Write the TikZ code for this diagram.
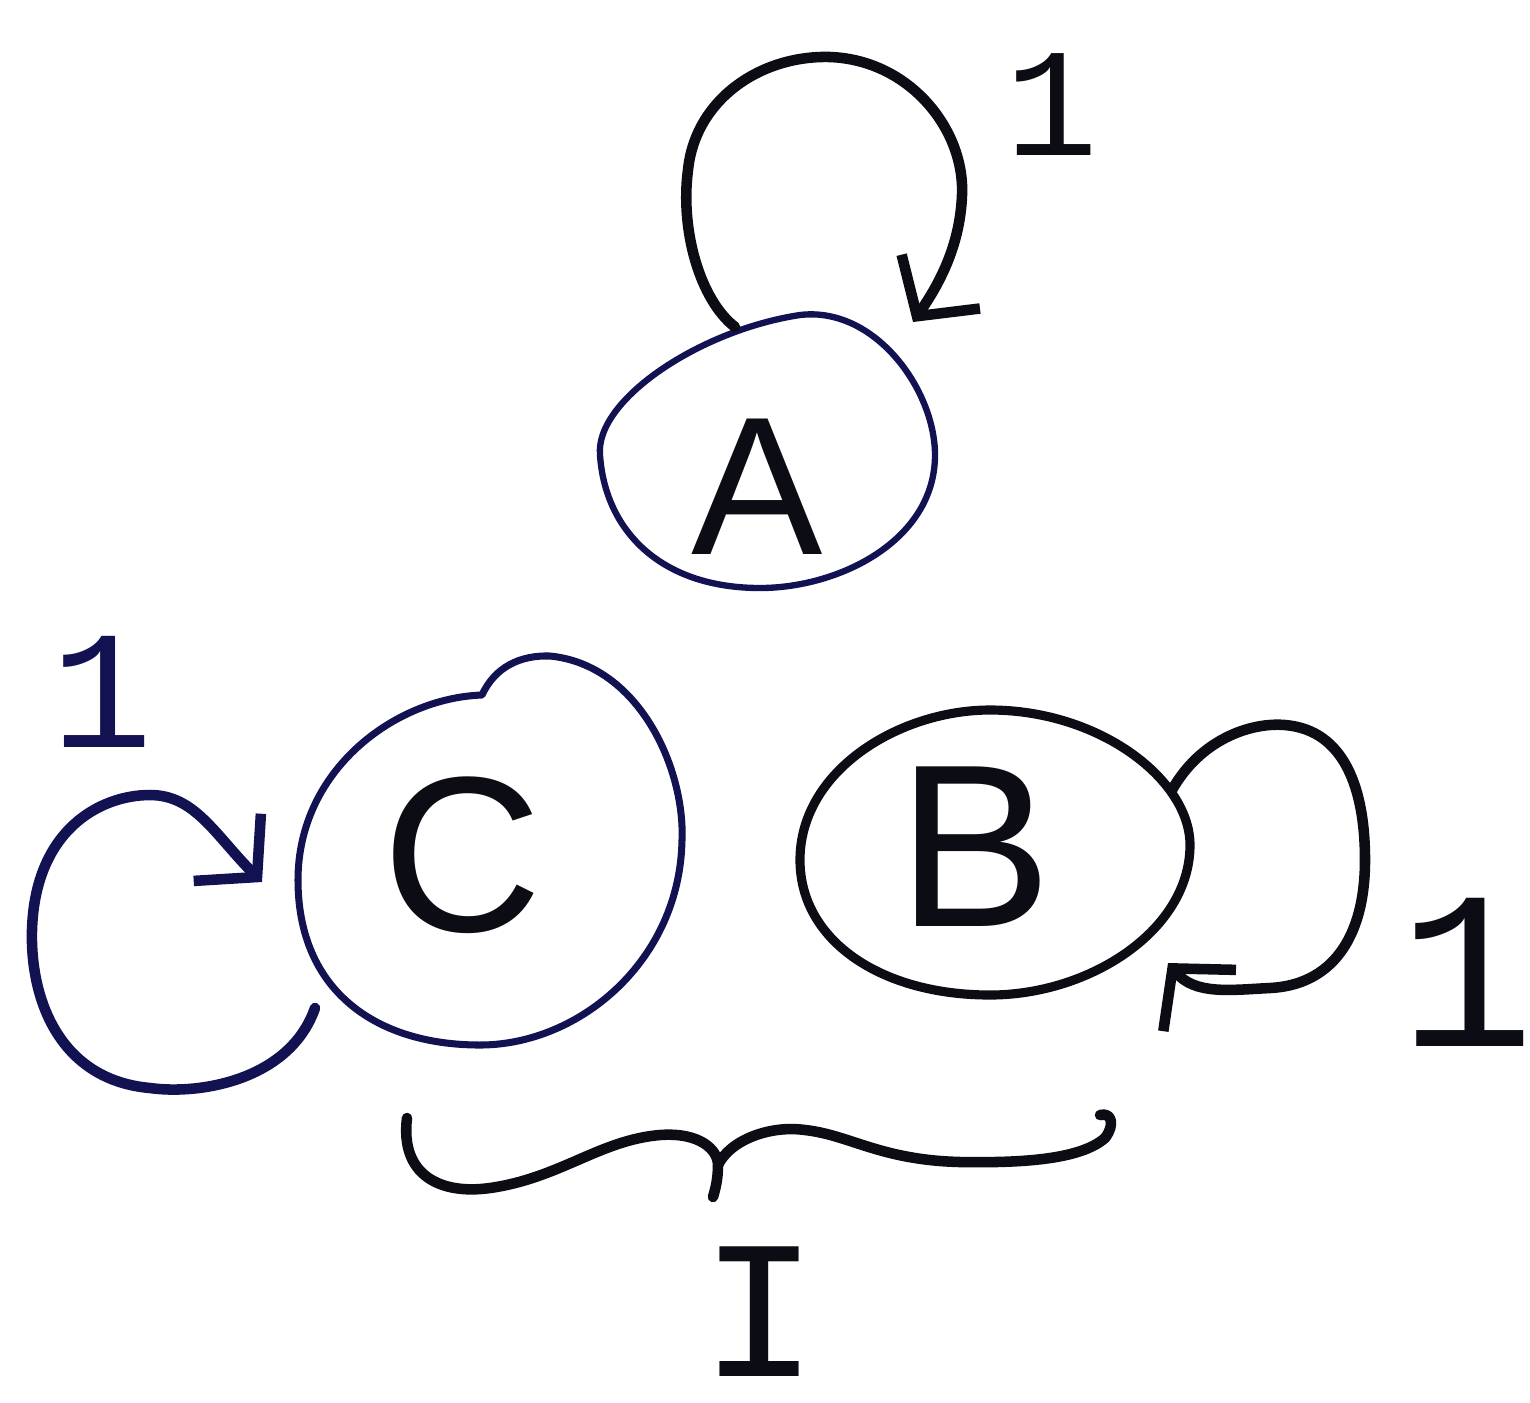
\documentclass[tikz,border=0pt]{standalone}
\usepackage{fontspec}
\setmainfont{Liberation Sans}
\newfontfamily\monofam{Liberation Mono}
\usetikzlibrary{arrows.meta}
\definecolor{navyink}{RGB}{18,18,82}
\definecolor{blackink}{RGB}{12,12,20}
\begin{document}
\begin{tikzpicture}[x=0.01cm,y=-0.01cm,
  ring/.style={line width=2.6pt, line join=round, blackink},
  thinring/.style={line width=1.8pt, line join=round, navyink},
  loopline/.style={line width=3pt, line cap=round, line join=round, blackink},
  barb/.style={-{Straight Barb[length=0.42cm,width=0.95cm]}},
  letter/.style={inner sep=0pt, text=blackink},
  numeral/.style={inner sep=0pt, text=blackink, font=\monofam}]
\useasboundingbox (0,0) rectangle (1530,1402);
\fill[white] (0,0) rectangle (1530,1402);

% state letters
\node[letter, font=\fontsize{56}{56}\selectfont] (A) at (757,487) {A};
\node[letter, font=\fontsize{63}{63}\selectfont] (C) at (462,855) {C};
\node[letter, font=\fontsize{66}{66}\selectfont] (B) at (975,847) {B};

% state outlines
\draw[thinring] (600,455) .. controls (595,400) and (700,330) .. (800,315)
  .. controls (875,306) and (935,390) .. (935,455)
  .. controls (935,540) and (840,588) .. (760,588)
  .. controls (660,588) and (605,530) .. cycle;
\draw[thinring, line width=2pt] (298,880) .. controls (298,770) and (395,698) .. (482,695)
  .. controls (495,667) and (520,655) .. (550,656)
  .. controls (640,665) and (685,770) .. (682,840)
  .. controls (680,960) and (580,1045) .. (480,1045)
  .. controls (375,1045) and (298,990) .. cycle;
\draw[ring] (800,860) .. controls (800,770) and (900,710) .. (990,710)
  .. controls (1100,710) and (1190,780) .. (1190,845)
  .. controls (1190,930) and (1090,995) .. (990,995)
  .. controls (880,995) and (800,940) .. cycle;

% self-loops
\coordinate (Aout) at (735,327);
\coordinate (Ain) at (913,322);
\draw[loopline, barb] (Aout) .. controls (700,300) and (680,230) .. (688,170)
  .. controls (695,100) and (760,55) .. (830,57)
  .. controls (910,60) and (965,130) .. (962,195)
  .. controls (960,250) and (935,290) .. (Ain);

\coordinate (Cout) at (315,1008);
\coordinate (Cin) at (262,882);
\draw[loopline, navyink, barb] (Cout) .. controls (290,1080) and (200,1095) .. (150,1088)
  .. controls (60,1080) and (30,1000) .. (32,930)
  .. controls (35,830) and (100,795) .. (150,795)
  .. controls (195,795) and (215,835) .. (Cin);

\coordinate (Bout) at (1172,790);
\coordinate (Bin) at (1168,963);
\draw[loopline, barb] (Bout) .. controls (1200,740) and (1250,722) .. (1285,725)
  .. controls (1345,730) and (1365,790) .. (1365,860)
  .. controls (1365,940) and (1330,985) .. (1270,988)
  .. controls (1230,990) and (1195,995) .. (Bin);

% loop weights
\node[numeral, font=\monofam\fontsize{44}{44}\selectfont] (wA) at (1052,105) {1};
\node[numeral, text=navyink, font=\monofam\fontsize{48}{48}\selectfont] (wC) at (102,692) {1};
\node[numeral, font=\monofam\fontsize{64}{64}\selectfont] (wB) at (1467,972) {1};

% brace under C and B
\coordinate (brL) at (407,1118);
\coordinate (brMid) at (718,1165);
\coordinate (brTip) at (713,1197);
\coordinate (brR) at (1100,1115);
\draw[loopline] (brL) .. controls (400,1175) and (440,1195) .. (490,1188)
  .. controls (560,1178) and (600,1140) .. (660,1135)
  .. controls (700,1132) and (718,1150) .. (brMid)
  .. controls (718,1180) and (715,1190) .. (brTip);
\draw[loopline] (brMid) .. controls (730,1140) and (770,1125) .. (805,1130)
  .. controls (850,1135) and (880,1160) .. (960,1162)
  .. controls (1020,1163) and (1080,1160) .. (1105,1138)
  .. controls (1115,1125) and (1112,1112) .. (brR);
\node[numeral, font=\monofam\fontsize{56}{56}\selectfont] (I) at (760,1312) {I};
\end{tikzpicture}
\end{document}
